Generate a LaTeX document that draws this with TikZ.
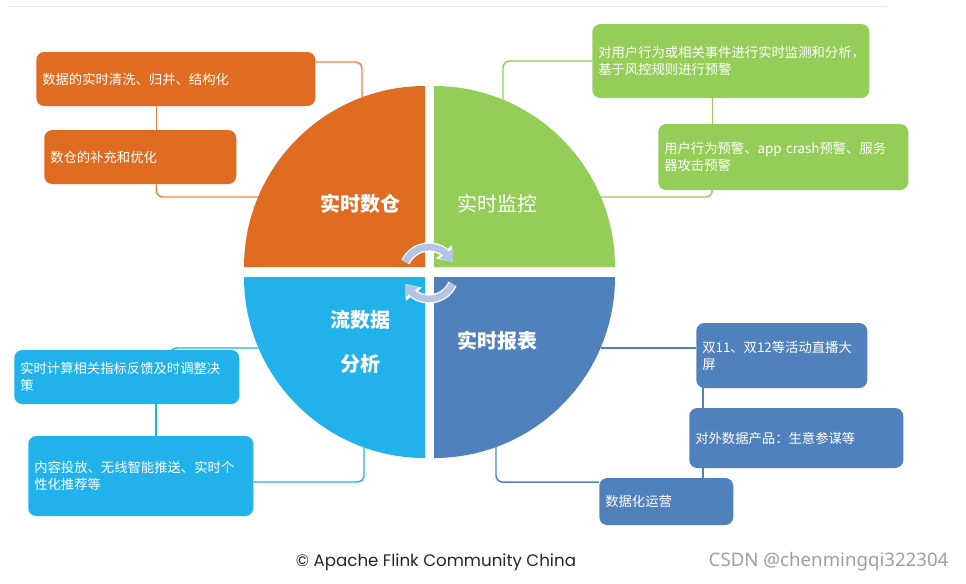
\documentclass[tikz,border=0pt]{standalone}
\usepackage{fontspec}
\newfontfamily\cjk{Noto Sans CJK SC}
\newfontfamily\footfont{Poppins}
\newfontfamily\markfont{Noto Sans}
\usetikzlibrary{arrows.meta,bending}
\definecolor{warehouse}{HTML}{E06C22}
\definecolor{warehouseline}{HTML}{EE8440}
\definecolor{monitor}{HTML}{94CE58}
\definecolor{stream}{HTML}{21B2EC}
\definecolor{report}{HTML}{5081BD}
\definecolor{spin}{HTML}{B3C5E2}
\begin{document}
\begin{tikzpicture}[x=0.75pt, y=-0.75pt,
  note/.style={rectangle, rounded corners=6pt, anchor=west, align=left, text=white, inner xsep=4.5pt, inner ysep=0pt, font=\cjk\fontsize{10}{12.75}\selectfont},
  link/.style={line width=1.1pt, rounded corners=5pt},
  quad/.style={text=white, align=center, font=\cjk\fontsize{15}{33}\selectfont},
  quadbold/.style={quad, font=\cjk\bfseries\fontsize{15}{33}\selectfont}]

\useasboundingbox (0,0) rectangle (966,583);
\draw[line width=0.75pt, black!9] (8,6) -- (887,6);

\fill[warehouse] (425,267) -- (244,267) arc[start angle=180, end angle=270, radius=181] -- cycle;
\fill[monitor] (434,267) -- (434,86) arc[start angle=270, end angle=360, radius=181] -- cycle;
\fill[stream] (425,277) -- (244,277) arc[start angle=180, end angle=90, radius=181] -- cycle;
\fill[report] (434,277) -- (615,277) arc[start angle=0, end angle=90, radius=181] -- cycle;

\node[quadbold] (lwh) at (360,204) {实时数仓};
\node[quad] (lmon) at (497,204) {实时监控};
\node[quadbold] (lstr) at (360,342) {流数据\\分析};
\node[quadbold] (lrep) at (497,341) {实时报表};

\foreach \a/\b in {205/335, 25/155} {
    \draw[white, line width=7pt, -{Triangle[width=15pt, length=10pt, flex]}] (429,273) ++(\a:26) arc[start angle=\a, end angle=\b, radius=26];
    \draw[spin, line width=5pt, -{Triangle[width=12.5pt, length=8pt, flex]}] (429,273) ++(\a:26) arc[start angle=\a, end angle=\b, radius=26];
}

\node[note, fill=warehouse, text width=200.25pt, minimum height=40.5pt] (o1) at (36,79) {数据的实时清洗、归并、结构化};
\node[note, fill=warehouse, text width=135pt, minimum height=40.5pt] (o2) at (44,157) {数仓的补充和优化};
\node[note, fill=monitor, text width=198.75pt, minimum height=55.5pt] (g1) at (592,61) {对用户行为或相关事件进行实时监测和分析，\\基于风控规则进行预警};
\node[note, fill=monitor, text width=178.5pt, minimum height=49.5pt] (g2) at (658,157) {用户行为预警、app crash预警、服务\\器攻击预警};
\node[note, fill=stream, text width=159.75pt, minimum height=40.5pt] (b1) at (14,377) {实时计算相关指标反馈及时调整决\\策};
\node[note, fill=stream, text width=159.75pt, minimum height=60pt] (b2) at (28,476) {内容投放、无线智能推送、实时个\\性化推荐等};
\node[note, fill=report, text width=119.25pt, minimum height=48.75pt] (d1) at (696,355.5) {双11、双12等活动直播大\\屏};
\node[note, fill=report, text width=151.5pt, minimum height=45pt] (d2) at (689,438) {对外数据产品：生意参谋等};
\node[note, fill=report, text width=91.5pt, minimum height=35.25pt] (d3) at (599,501.5) {数据化运营};

\coordinate (oa1) at (362,97);
\coordinate (oa2) at (258,197);
\coordinate (ga1) at (503,100);
\coordinate (ga2) at (601,197);
\coordinate (ba1) at (258,348);
\coordinate (ba2) at (364,447);
\coordinate (da1) at (601,348);
\coordinate (da2) at (496,447);
\coordinate (ox) at ([xshift=12pt]o2.north);
\coordinate (gx) at ([xshift=-13.9pt]g1.south);
\coordinate (bx) at ([xshift=22pt]b1.south);
\coordinate (dx) at ([xshift=5.25pt]d1.south west);

\draw[link, warehouseline] ([yshift=12.75pt]o1.east) -| (oa1);
\draw[link, warehouseline] (ox |- o1.south) -- (ox);
\draw[link, warehouseline] (ox |- o2.south) |- (oa2);

\draw[link, monitor] (g1.west) -| (ga1);
\draw[link, monitor] (gx) -- (gx |- g2.north);
\draw[link, monitor] (gx |- g2.south) |- (ga2);

\draw[link, stream] (ba1) -| ([xshift=32.6pt]b1.north);
\draw[link, stream] (bx) -- (bx |- b2.north);
\draw[link, stream] ([yshift=-4.5pt]b2.east) -| (ba2);

\draw[link, report] (da1) -- (da1 -| d1.west);
\draw[link, report] (dx) -- (dx |- d2.north);
\draw[link, report] (dx |- d2.south) -- (dx |- d3.north);
\draw[link, report] ([yshift=14.6pt]d3.west) -| (da2);

\node[font=\footfont\fontsize{12.5}{14}\selectfont, text=black!85] (credit) at (436,562) {© Apache Flink Community China};
\node[font=\markfont\fontsize{14}{16}\selectfont, text=black!38, anchor=west] (mark) at (704,562) {CSDN @chenmingqi322304};

\end{tikzpicture}
\end{document}
